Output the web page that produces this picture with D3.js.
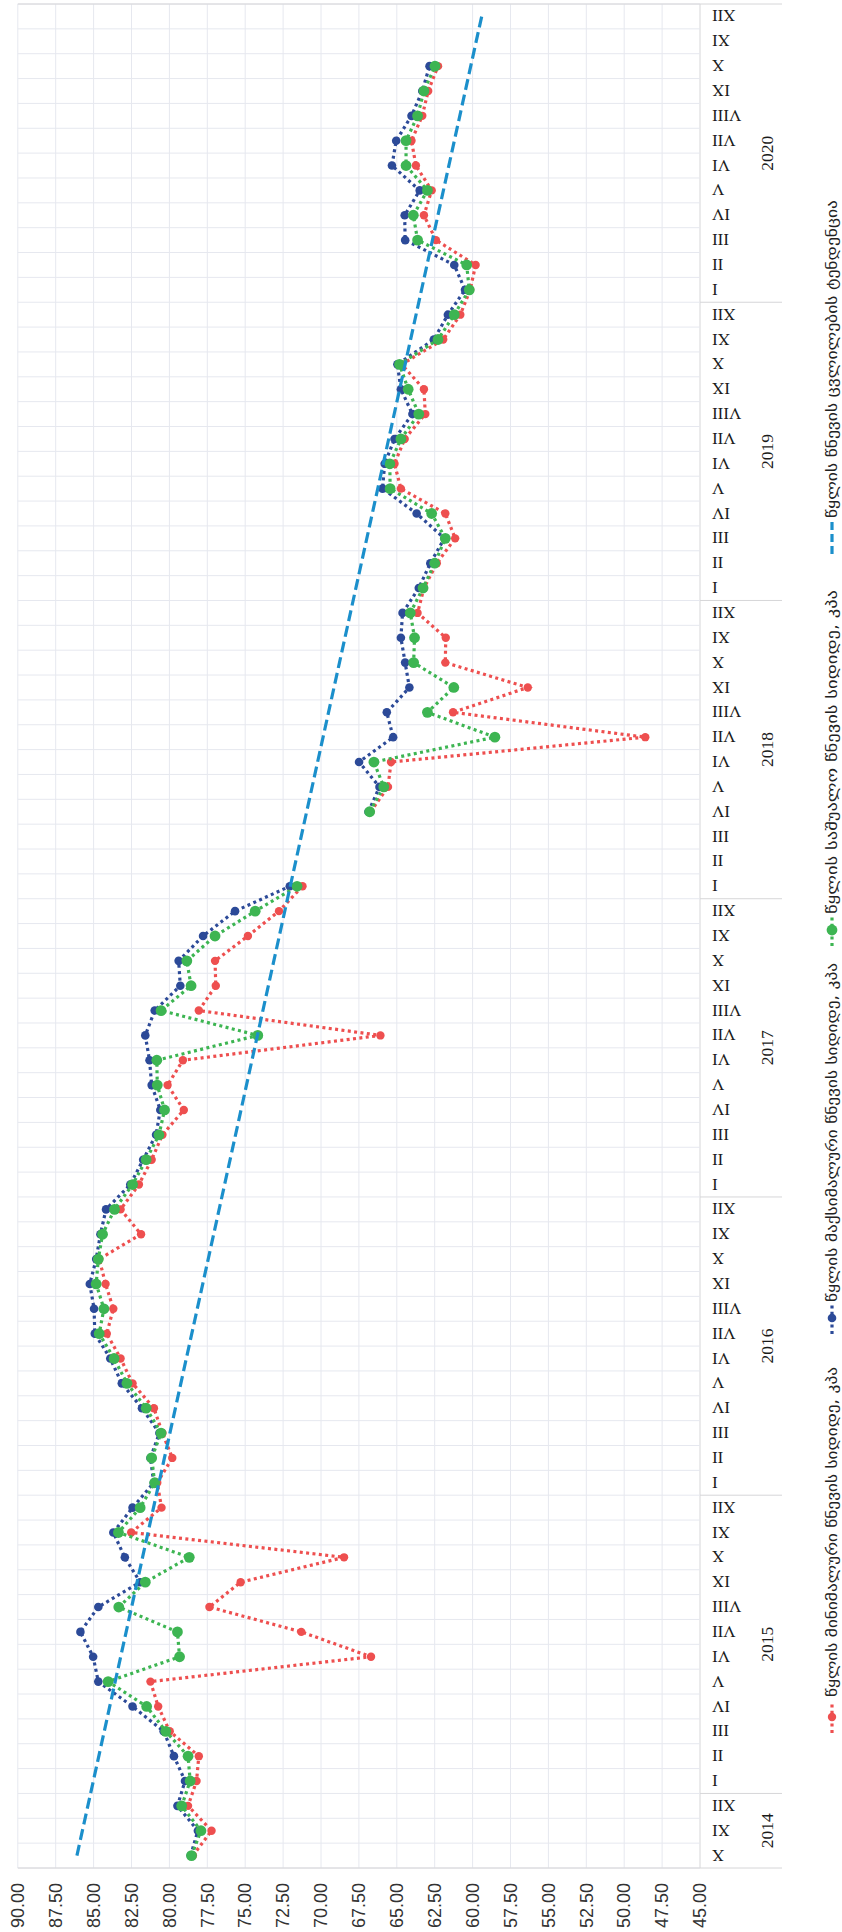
<!DOCTYPE html>
<html>
<head>
<meta charset="utf-8">
<script src="https://cdn.jsdelivr.net/npm/d3@7"></script>
<style>
  html, body { margin: 0; padding: 0; background: #ffffff; }
  svg { display: block; }
</style>
</head>
<body>
<svg id="chart" width="842" height="1932"></svg>
<script>
// ---------------- DATA ----------------
const years = ["2014", "2015", "2016", "2017", "2018", "2019", "2020"];
const monthNames = ["I", "II", "III", "IV", "V", "VI", "VII", "VIII", "IX", "X", "XI", "XII"];
const firstMonthIndex = 9; // series starts at 2014 X

const yTicks = [45, 47.5, 50, 52.5, 55, 57.5, 60, 62.5, 65, 67.5, 70, 72.5, 75, 77.5, 80, 82.5, 85, 87.5, 90];

// minimum pressure (red)
const minPressure = [
  78.45, 77.22, 78.77,
  78.21, 78.06, 79.98, 80.74, 81.25, 66.70, 71.30, 77.36, 75.30, 68.48, 82.52, 80.52,
  80.80, 79.81, 80.46, 81.02, 82.43, 83.22, 84.13, 83.70, 84.21, 84.63, 81.87, 83.22,
  82.01, 81.17, 80.46, 79.05, 80.12, 79.11, 66.08, 78.06, 76.94, 76.99, 74.82, 72.77,
  71.22, null, null, 66.73, 65.58, 65.38, 48.61, 61.29, 56.36, 61.80, 61.77, 63.63,
  63.21, 62.36, 61.15, 61.80, 64.73, 65.15, 64.48, 63.12, 63.21, 64.68, 61.94, 60.81,
  60.16, 59.80, 62.42, 63.21, 62.70, 63.74, 64.03, 63.32, 62.93, 62.28, null, null
];
// maximum pressure (blue)
const maxPressure = [
  78.60, 78.12, 79.47,
  78.97, 79.70, 80.38, 82.43, 84.69, 85.03, 85.87, 84.69, 81.93, 82.94, 83.70, 82.43,
  81.03, 81.25, 80.66, 81.81, 83.14, 83.90, 84.92, 84.97, 85.25, 84.83, 84.55, 84.18,
  82.58, 81.73, 80.88, 80.60, 81.17, 81.31, 81.59, 80.97, 79.28, 79.39, 77.78, 75.67,
  72.06, null, null, 66.87, 66.14, 67.49, 65.24, 65.66, 64.17, 64.45, 64.73, 64.62,
  63.55, 62.79, 61.86, 63.69, 65.94, 65.80, 65.15, 63.97, 64.73, 64.96, 62.56, 61.63,
  60.50, 61.21, 64.45, 64.48, 63.49, 65.32, 65.04, 64.03, 63.32, 62.84, null, null
];
// average pressure (green)
const avgPressure = [
  78.54, 77.92, 79.19,
  78.63, 78.77, 80.24, 81.50, 84.04, 79.33, 79.47, 83.34, 81.59, 78.69, 83.36, 81.93,
  80.97, 81.17, 80.55, 81.53, 82.80, 83.65, 84.63, 84.32, 84.83, 84.69, 84.41, 83.62,
  82.43, 81.53, 80.69, 80.32, 80.80, 80.83, 74.17, 80.55, 78.57, 78.85, 76.99, 74.34,
  71.58, null, null, 66.79, 65.86, 66.51, 58.53, 62.98, 61.24, 63.89, 63.83, 64.11,
  63.27, 62.50, 61.80, 62.70, 65.44, 65.46, 64.73, 63.55, 64.25, 64.82, 62.28, 61.21,
  60.22, 60.39, 63.63, 63.91, 62.98, 64.39, 64.39, 63.63, 63.21, 62.48, null, null
];
// linear trend: value at first and at last category
const trendValues = [86.1, 59.4];

const legendLabels = [
  "წყლის მინიმალური წნევის სიდიდე, კპა",
  "წყლის მაქსიმალური წნევის სიდიდე, კპა",
  "წყლის საშუალო წნევის სიდიდე, კპა",
  "წყლის წნევის ცვლილების ტენდენცია"
];

// ---------------- BUILD ----------------
const categories = [];
years.forEach((yr, yi) => {
  monthNames.forEach((m, mi) => {
    if (yi === 0 && mi < firstMonthIndex) return;
    categories.push(yr + "|" + m);
  });
});

const COL = { red: "#ee4f4f", blue: "#2c4a98", green: "#3db552", trend: "#1b8fcb",
              grid: "#e6e8ef", axis: "#d6d6d8" };

// landscape drawing frame, rotated into the portrait page
const W = 1932;
const svg = d3.select("#chart");
const g = svg.append("g").attr("transform", `translate(0,${W}) rotate(-90)`);

const plotL = 64, plotR = 1928, plotT = 17.8, plotB = 700, labelEnd = 782;

const x = d3.scaleBand().domain(categories).range([plotL, plotR]).padding(0);
const bw = x.bandwidth();
const cx = c => x(c) + bw / 2;
const y = d3.scaleLinear().domain([45, 90]).range([plotB, plotT]);

// value gridlines
g.append("g").selectAll("line").data(yTicks).join("line")
  .attr("x1", plotL).attr("x2", plotR)
  .attr("y1", d => y(d)).attr("y2", d => y(d))
  .attr("stroke", d => d === 45 ? COL.axis : COL.grid)
  .attr("stroke-width", 1);

// category boundaries
const bounds = d3.range(categories.length + 1).map(k => plotL + k * bw);
g.append("g").selectAll("line").data(bounds).join("line")
  .attr("x1", d => d).attr("x2", d => d)
  .attr("y1", plotT).attr("y2", plotB)
  .attr("stroke", COL.grid).attr("stroke-width", 1);

// year separators in the label area
const yearBounds = [0];
categories.forEach((c, i) => { if (i > 0 && c.split("|")[0] !== categories[i - 1].split("|")[0]) yearBounds.push(i); });
yearBounds.push(categories.length);
g.append("g").selectAll("line").data(yearBounds).join("line")
  .attr("x1", d => plotL + d * bw).attr("x2", d => plotL + d * bw)
  .attr("y1", (d, i) => (i === 0 || i === yearBounds.length - 1) ? plotT : plotB)
  .attr("y2", labelEnd)
  .attr("stroke", COL.axis).attr("stroke-width", 1);

// value axis labels
const yAxis = g.append("g").attr("transform", "translate(49,0)")
  .call(d3.axisLeft(y).tickValues(yTicks).tickFormat(d3.format(".2f")).tickSize(0).tickPadding(0));
yAxis.select(".domain").remove();
yAxis.selectAll("text")
  .attr("fill", "#333")
  .style("font-family", "'Liberation Sans Narrow', 'Arial Narrow', 'Liberation Sans', sans-serif")
  .style("font-size", "18px");

// month labels
const xAxis = g.append("g").attr("transform", `translate(0,${plotB})`)
  .call(d3.axisBottom(x).tickSize(0).tickFormat(d => d.split("|")[1]));
xAxis.select(".domain").remove();
xAxis.selectAll("text")
  .attr("transform", "rotate(-90)")
  .attr("x", -12).attr("y", 0).attr("dy", "0.35em")
  .style("text-anchor", "end")
  .attr("fill", "#1a1a1a")
  .style("font-family", "'Liberation Serif', 'Times New Roman', serif")
  .style("font-size", "17px");

// year labels
const yearCenters = years.map((yr, i) => {
  const a = yearBounds[i], b = yearBounds[i + 1];
  return { yr, u: plotL + (a + b) / 2 * bw };
});
g.append("g").selectAll("text").data(yearCenters).join("text")
  .attr("x", d => d.u).attr("y", 767).attr("dy", "0.36em")
  .attr("text-anchor", "middle")
  .attr("fill", "#1a1a1a")
  .style("font-family", "'Liberation Serif', 'Times New Roman', serif")
  .style("font-size", "17.5px")
  .text(d => d.yr);

// series
const seriesDefs = [
  { values: minPressure, color: COL.red, r: 4.2 },
  { values: maxPressure, color: COL.blue, r: 4.3 },
  { values: avgPressure, color: COL.green, r: 5.4 }
];
const line = d3.line().defined(d => d.v != null).x(d => cx(d.c)).y(d => y(d.v));
seriesDefs.forEach(s => {
  const pts = categories.map((c, i) => ({ c, v: s.values[i] }));
  const sg = g.append("g");
  sg.append("path").datum(pts)
    .attr("d", line).attr("fill", "none")
    .attr("stroke", s.color).attr("stroke-width", 3.2)
    .attr("stroke-dasharray", "3,3.4");
  sg.selectAll("circle").data(pts.filter(d => d.v != null)).join("circle")
    .attr("cx", d => cx(d.c)).attr("cy", d => y(d.v)).attr("r", s.r)
    .attr("fill", s.color);
});

// trend line
const trendPts = [
  { c: categories[0], v: trendValues[0] },
  { c: categories[categories.length - 1], v: trendValues[1] }
];
g.append("path").datum(trendPts)
  .attr("d", line).attr("fill", "none")
  .attr("stroke", COL.trend).attr("stroke-width", 3.2)
  .attr("stroke-dasharray", "11,5");

// legend
const legendY = 832;
const legendItems = [
  { label: legendLabels[0], color: COL.red, type: "dot", r: 4.2, m: 215, t: 235, len: 330 },
  { label: legendLabels[1], color: COL.blue, type: "dot", r: 4.3, m: 614, t: 630, len: 339 },
  { label: legendLabels[2], color: COL.green, type: "dot", r: 5.4, m: 1002, t: 1018, len: 324 },
  { label: legendLabels[3], color: COL.trend, type: "dash", r: 0, m: 1394, t: 1414, len: 318 }
];
const lg = g.append("g");
legendItems.forEach(it => {
  lg.append("line")
    .attr("x1", it.m - 16).attr("x2", it.m + 16)
    .attr("y1", legendY).attr("y2", legendY)
    .attr("stroke", it.color).attr("stroke-width", 3.2)
    .attr("stroke-dasharray", it.type === "dash" ? "8,4" : "3,3.4");
  if (it.type === "dot") {
    lg.append("circle").attr("cx", it.m).attr("cy", legendY).attr("r", it.r).attr("fill", it.color);
  }
  lg.append("text")
    .attr("x", it.t).attr("y", legendY).attr("dy", "0.35em")
    .attr("textLength", it.len).attr("lengthAdjust", "spacingAndGlyphs")
    .attr("fill", "#222")
    .style("font-family", "'DejaVu Sans', 'Noto Sans', sans-serif")
    .style("font-size", "15px")
    .text(it.label);
});
</script>
</body>
</html>
